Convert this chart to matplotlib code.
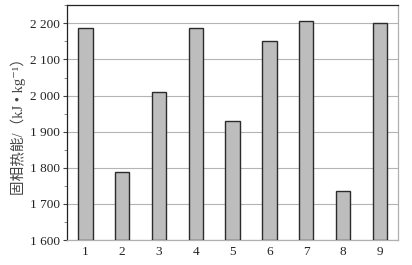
import matplotlib
matplotlib.use("Agg")
import matplotlib.pyplot as plt
from matplotlib.ticker import MultipleLocator, FuncFormatter

plt.rcParams['font.family'] = ['Liberation Serif', 'Noto Sans CJK SC', 'DejaVu Serif']

samples = [1, 2, 3, 4, 5, 6, 7, 8, 9]
energy = [2186, 1787, 2010, 2186, 1929, 2151, 2206, 1736, 2202]
ylabel = "固相热能/（kJ • kg⁻¹）"

fig = plt.figure(figsize=(4.12, 2.65), dpi=100)
ax = fig.add_axes([0.1626, 0.0943, 0.8042, 0.8857])

ax.bar(samples, [e - 1600 for e in energy], bottom=1600, width=0.39,
       color="#bdbdbd", edgecolor="#2b2b2b", linewidth=1.0, zorder=3)

ax.set_xlim(0.5, 9.5)
ax.set_ylim(1600, 2250)
ax.set_xticks(samples)
ax.yaxis.set_major_locator(MultipleLocator(100))
ax.yaxis.set_minor_locator(MultipleLocator(50))
ax.yaxis.set_major_formatter(FuncFormatter(lambda v, p: f"{int(v):,}".replace(",", " ")))
ax.grid(axis="y", which="major", color="#b4b4b4", linewidth=0.8, zorder=0)

ax.tick_params(axis="x", length=0, pad=4, labelsize=9.5, labelcolor="#222222")
ax.tick_params(axis="y", which="major", length=3, width=0.8, color="#444444",
               labelsize=9.5, labelcolor="#222222", pad=2)
ax.tick_params(axis="y", which="minor", length=2, width=0.6, color="#777777")

ax.spines["top"].set_color("#222222")
ax.spines["left"].set_color("#222222")
ax.spines["right"].set_color("#b0b0b0")
ax.spines["bottom"].set_color("#b0b0b0")
for s in ax.spines.values():
    s.set_linewidth(0.9)

ax.set_ylabel(ylabel, fontsize=10.5, color="#444444", labelpad=3)

fig.savefig("out.png", dpi=100)
